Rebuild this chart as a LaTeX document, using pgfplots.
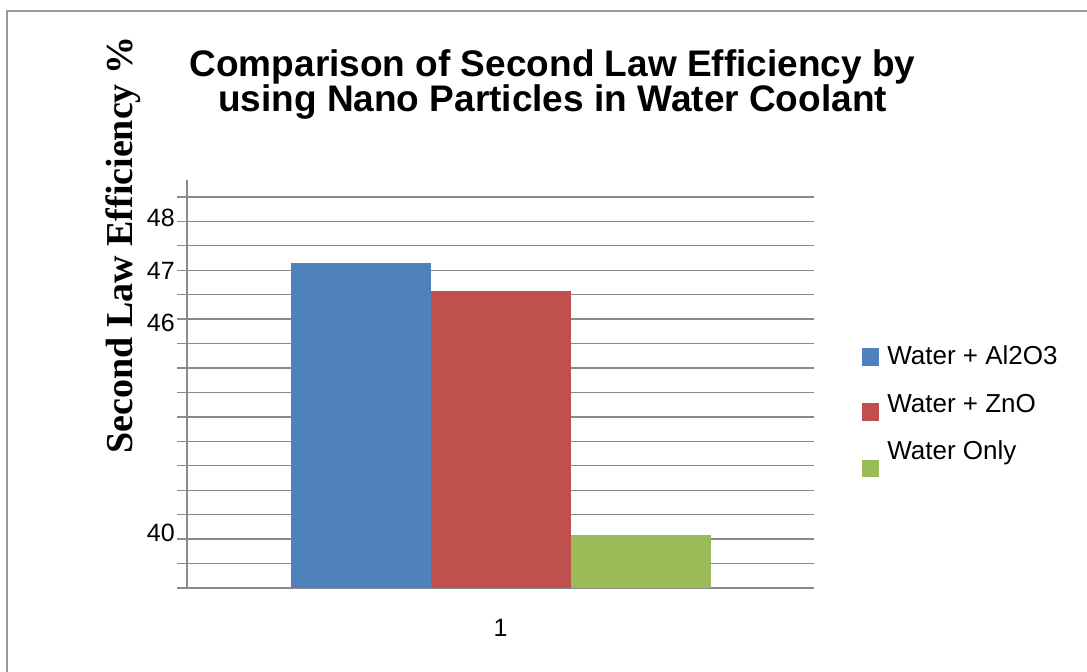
\documentclass[border=0pt]{standalone}
\usepackage{pgfplots}
\pgfplotsset{compat=1.18}
\usepackage{fontspec}
\setmainfont{Liberation Sans}
\newfontfamily\tnr{Liberation Serif}
\definecolor{cblue}{HTML}{4F81BD}
\definecolor{cred}{HTML}{C0504D}
\definecolor{cgreen}{HTML}{9BBB59}
\definecolor{cgrid}{HTML}{8A8A8A}
\definecolor{cframe}{HTML}{9A9A9A}
\begin{document}
\begin{tikzpicture}[x=1pt,y=1pt]
\path[use as bounding box] (0,0) rectangle (1087,-672);
\draw[cframe, line width=1.6pt] (7,-673) -- (7,-11) -- (1088,-11);
\begin{axis}[
  at={(187pt,-588pt)}, anchor=south west,
  scale only axis, width=627pt, height=408pt,
  xmin=0, xmax=2, ymin=0, ymax=16.69,
  axis x line*=bottom, axis y line*=left,
  axis line style={cgrid, line width=1.4pt, -},
  ybar=0pt, bar width=140pt,
  xtick={1}, xticklabels={1},
  x tick style={draw=none},
  xticklabel style={font=\fontsize{25}{25}\selectfont, yshift=-18pt},
  ytick={0,1,...,16}, yticklabels={},
  ymajorgrids, grid style={cgrid, line width=1.4pt},
  y tick style={cgrid, line width=1.4pt},
  tick align=outside, major tick length=10pt,
  extra y ticks={2.27,10.86,12.97,15.15},
  extra y tick labels={40,46,47,48},
  extra y tick style={grid=none, major tick length=0pt, tick style={draw=none},
     yticklabel style={font=\fontsize{25}{25}\selectfont, inner xsep=0pt, xshift=-12pt}},
  title={Comparison of Second Law Efficiency by\\using Nano Particles in Water Coolant},
  title style={font=\bfseries\fontsize{37}{35}\selectfont, align=center, inner sep=0pt,
     at={(axis description cs:0.583,1)}, anchor=south, yshift=54pt},
  ylabel={Second Law Efficiency \%},
  ylabel style={font=\tnr\bfseries\fontsize{38}{38}\selectfont, inner sep=0pt,
     at={(axis description cs:-0.102,0.8407)}, anchor=center, rotate=0},
  legend style={at={(axis description cs:1.072,0.62)}, anchor=north west,
     draw=none, fill=none, font=\fontsize{26}{26}\selectfont,
     nodes={inner sep=0pt}, column sep=8pt, row sep=18.5pt},
  legend cell align=left,
]
\addplot[fill=cblue, draw=none,
  legend image code/.code={\path[fill=none, draw=none] (0pt,0pt) rectangle (17pt,19pt);
    \fill[cblue, overlay] (0pt,-9.5pt) rectangle (17pt,8.5pt);}]
  coordinates {(1,13.30)};
\addplot[fill=cred, draw=none,
  legend image code/.code={\path[fill=none, draw=none] (0pt,0pt) rectangle (17pt,19pt);
    \fill[cred, overlay] (0pt,-17.5pt) rectangle (17pt,0.5pt);}]
  coordinates {(1,12.15)};
\addplot[fill=cgreen, draw=none,
  legend image code/.code={\path[fill=none, draw=none] (0pt,0pt) rectangle (17pt,19pt);
    \fill[cgreen, overlay] (0pt,-25.5pt) rectangle (17pt,-8.5pt);}]
  coordinates {(1,2.17)};
\legend{Water + Al2O3, Water + ZnO, Water Only}
\end{axis}
\end{tikzpicture}
\end{document}
